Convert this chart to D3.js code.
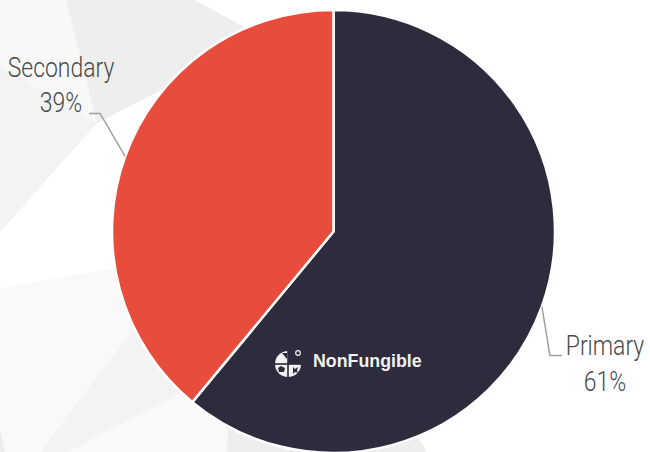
<!DOCTYPE html>
<html>
<head>
<meta charset="utf-8">
<script src="https://cdn.jsdelivr.net/npm/d3@7/dist/d3.min.js"></script>
<style>
  html, body { margin: 0; padding: 0; background: #fff; }
  svg { display: block; }
  .lbl { font-family: "Roboto", "Liberation Sans", sans-serif; font-weight: 300; fill: #4a4a4a; font-size: 27px; }
</style>
</head>
<body>
<svg id="chart" width="650" height="452"></svg>
<script>
// ---- data ----
const categories = ["Primary", "Secondary"];
const shares = [61, 39];
const percentLabels = ["61%", "39%"];
const colors = ["#2d2b3c", "#e74c3c"];

// ---- layout ----
const W = 650, H = 452;
const cx = 333.5, cy = 231.5, R = 221.5;
const svg = d3.select("#chart");

// background low-poly shapes
const bg = [
  {c: "#f8f8f8", p: [[0,0],[66,0],[97,123],[0,66]]},
  {c: "#eeeeee", p: [[66,0],[195,0],[255,33],[200,70],[97,123]]},
  {c: "#f3f3f3", p: [[0,66],[97,123],[0,232]]},
  {c: "#f9f9f9", p: [[0,288],[150,262],[230,330],[180,393],[67,452],[0,452]]},
  {c: "#f3f3f3", p: [[133,330],[175,310],[190,392],[67,452],[40,452]]},
  {c: "#f9f9f9", p: [[180,393],[240,360],[300,430],[228,420],[227,452],[67,452]]},
  {c: "#eeeeee", p: [[228,420],[300,400],[413,430],[427,452],[227,452]]},
  {c: "#ececec", p: [[0,430],[5,452],[0,452]]}
];
svg.append("g").selectAll("polygon").data(bg).join("polygon")
  .attr("points", d => d.p.map(q => q.join(",")).join(" "))
  .attr("fill", d => d.c);

const pie = d3.pie().sort(null).value(d => d)(shares);
const arc = d3.arc().innerRadius(0).outerRadius(R);
const edge = d3.arc().innerRadius(R).outerRadius(R);

const g = svg.append("g").attr("transform", `translate(${cx},${cy})`);
g.selectAll("path").data(pie).join("path")
  .attr("d", arc)
  .attr("fill", (d, i) => colors[i])
  .attr("stroke", "#fff")
  .attr("stroke-width", 2.5)
  .attr("stroke-linejoin", "round");

// leader lines and labels
const labelLayout = [
  {elbow: [8, 49], end: 12, tx: 605, dyTop: -1, dy2: 36},     // Primary
  {elbow: [-25, -43], end: -11, tx: 61, dyTop: -36, dy2: 35}   // Secondary
];
pie.forEach((d, i) => {
  const c = edge.centroid(d);
  const L = labelLayout[i];
  const p0 = [cx + c[0], cy + c[1]];
  const p1 = [p0[0] + L.elbow[0], p0[1] + L.elbow[1]];
  const p2 = [p1[0] + L.end, p1[1]];
  svg.append("polyline")
    .attr("points", [p0, p1, p2].map(q => q.join(",")).join(" "))
    .attr("fill", "none").attr("stroke", "#a0a0a0").attr("stroke-width", 1.5);
  const ty = p2[1] + L.dyTop;
  const t = svg.append("g").attr("transform", `translate(${L.tx},0) scale(0.85,1)`)
    .append("text").attr("class", "lbl").attr("text-anchor", "middle");
  t.append("tspan").attr("x", 0).attr("y", ty).text(categories[i]);
  t.append("tspan").attr("x", 0).attr("y", ty + L.dy2).text(percentLabels[i]);
});

// watermark logo
const logo = svg.append("g").attr("transform", "translate(288,364)");
logo.append("circle").attr("r", 13).attr("fill", "#f2f2f2");
logo.append("path").attr("d", "M0,-14 L14,-14 L14,0 L0,0 Z").attr("fill", colors[0]);
logo.append("path").attr("d", "M-6,-11 L-1,-11 L-1,-5 Z").attr("fill", colors[0]);
logo.append("path").attr("d", "M-7,2 L-3,4 L-4,8 L-9,8 L-10,4 Z").attr("fill", colors[0]);
logo.append("path").attr("d", "M5,3 L7,5 L10,3 L9,7 L11,9 L7,8 L5,10 Z").attr("fill", colors[0]);
logo.append("rect").attr("x", -0.8).attr("y", -13).attr("width", 1.6).attr("height", 26).attr("fill", colors[0]);
logo.append("rect").attr("x", -13).attr("y", -0.8).attr("width", 26).attr("height", 1.6).attr("fill", colors[0]);
logo.append("circle").attr("cx", 10).attr("cy", -11).attr("r", 2.3).attr("fill", "none").attr("stroke", "#f2f2f2").attr("stroke-width", 1.2);
svg.append("text").attr("x", 313).attr("y", 367)
  .attr("font-family", "Liberation Sans, Arial, sans-serif").attr("font-weight", "bold")
  .attr("font-size", 17.8).attr("fill", "#f2f2f2").text("NonFungible");
</script>
</body>
</html>
